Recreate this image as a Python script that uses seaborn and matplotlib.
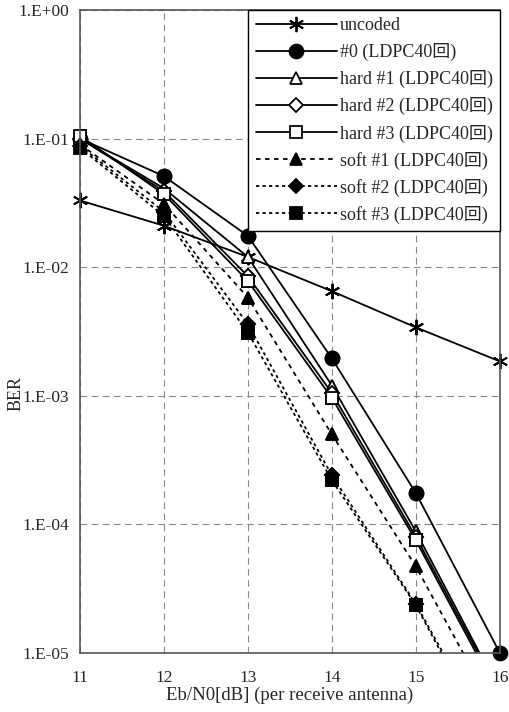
import pandas as pd
import matplotlib
matplotlib.use('Agg')
import matplotlib.pyplot as plt
import seaborn as sns
from matplotlib.ticker import FixedLocator, NullLocator

# data (BER vs Eb/N0)
ebn0 = [11, 12, 13, 14, 15, 16]
uncoded = [3.3e-2, 2.1e-2, 1.2e-2, 6.5e-3, 3.4e-3, 1.85e-3]
ldpc0 = [0.10, 5.1e-2, 1.75e-2, 1.95e-3, 1.75e-4, 1.0e-5]
hard1 = [0.10, 4.1e-2, 1.2e-2, 1.2e-3, 8.8e-5, 5.0e-6]
hard2 = [0.10, 3.9e-2, 8.5e-3, 1.05e-3, 8.0e-5, 4.8e-6]
hard3 = [0.105, 3.7e-2, 7.8e-3, 9.6e-4, 7.5e-5, 4.5e-6]
soft1 = [0.09, 3.1e-2, 5.8e-3, 5.0e-4, 4.7e-5, 3.0e-6]
soft2 = [0.088, 2.7e-2, 3.6e-3, 2.4e-4, 2.4e-5, 1.6e-6]
soft3 = [0.085, 2.5e-2, 3.1e-3, 2.2e-4, 2.35e-5, 1.4e-6]

labels = ['uncoded', '#0 (LDPC40回)', 'hard #1 (LDPC40回)', 'hard #2 (LDPC40回)',
          'hard #3 (LDPC40回)', 'soft #1 (LDPC40回)', 'soft #2 (LDPC40回)', 'soft #3 (LDPC40回)']
series = [uncoded, ldpc0, hard1, hard2, hard3, soft1, soft2, soft3]
markers = [(6, 2, 0), 'o', '^', 'D', 's', '^', 'D', 's']
fills = ['k', 'k', 'white', 'white', 'white', 'k', 'k', 'k']
msizes = [11, 10, 9, 7, 9, 9, 7, 9]
styles = ['-', '-', '-', '-', '-', (0, (2.5, 2.5)), (0, (1.8, 1.8)), (0, (1.8, 1.8))]

sns.set_style('white')
plt.rcParams['font.family'] = ['Liberation Serif', 'Noto Sans CJK JP']

fig = plt.figure(figsize=(5.09, 7.12), dpi=100)
ax = fig.add_axes([0.157, 0.083, 0.825, 0.903])

# lines (clipped at the axes)
for lab, vals, m, fc, ms, ls in zip(labels, series, markers, fills, msizes, styles):
    sns.lineplot(x=ebn0, y=vals, ax=ax, color='black', linewidth=1.3, linestyle=ls,
                 marker=m, markersize=ms, markerfacecolor=fc, markeredgecolor='black',
                 markeredgewidth=1.3, label=lab)

# markers on top, not clipped at the frame
for vals, m, fc, ms in zip(series, markers, fills, msizes):
    df = pd.DataFrame({'x': ebn0, 'y': vals})
    df = df[df['y'] >= 1e-5]
    sns.lineplot(data=df, x='x', y='y', ax=ax, color='black', linestyle='none',
                 marker=m, markersize=ms, markerfacecolor=fc, markeredgecolor='black',
                 markeredgewidth=1.3, clip_on=False, legend=False)

ax.set_yscale('log')
ax.set_ylim(1e-5, 1)
ax.set_xlim(11, 16)
ax.xaxis.set_major_locator(FixedLocator(ebn0))
ax.yaxis.set_major_locator(FixedLocator([1e-5, 1e-4, 1e-3, 1e-2, 1e-1, 1]))
ax.yaxis.set_minor_locator(NullLocator())
ax.set_yticklabels(['1.E-05', '1.E-04', '1.E-03', '1.E-02', '1.E-01', '1.E+00'])
ax.tick_params(axis='both', length=0, labelsize=12.5, pad=8)
ax.tick_params(axis='x', pad=12)
ax.grid(True, color='#888888', linestyle=(0, (6, 4)), linewidth=0.8)
for s in ax.spines.values():
    s.set_color('#555555')
    s.set_linewidth(1.2)

ax.set_xlabel('Eb/N0[dB] (per receive antenna)', fontsize=13.5, labelpad=1)
ax.set_ylabel('BER', fontsize=13)
ax.yaxis.set_label_coords(-0.133, 0.404)

leg = ax.legend(loc='upper right', fontsize=13, frameon=True, fancybox=False,
                edgecolor='black', framealpha=1, handlelength=4.5, handletextpad=0.15,
                labelspacing=0.5, borderpad=0.4, borderaxespad=0.0)
leg.get_frame().set_linewidth(1.0)
leg.set_zorder(10)

fig.savefig('out.png', dpi=100)
